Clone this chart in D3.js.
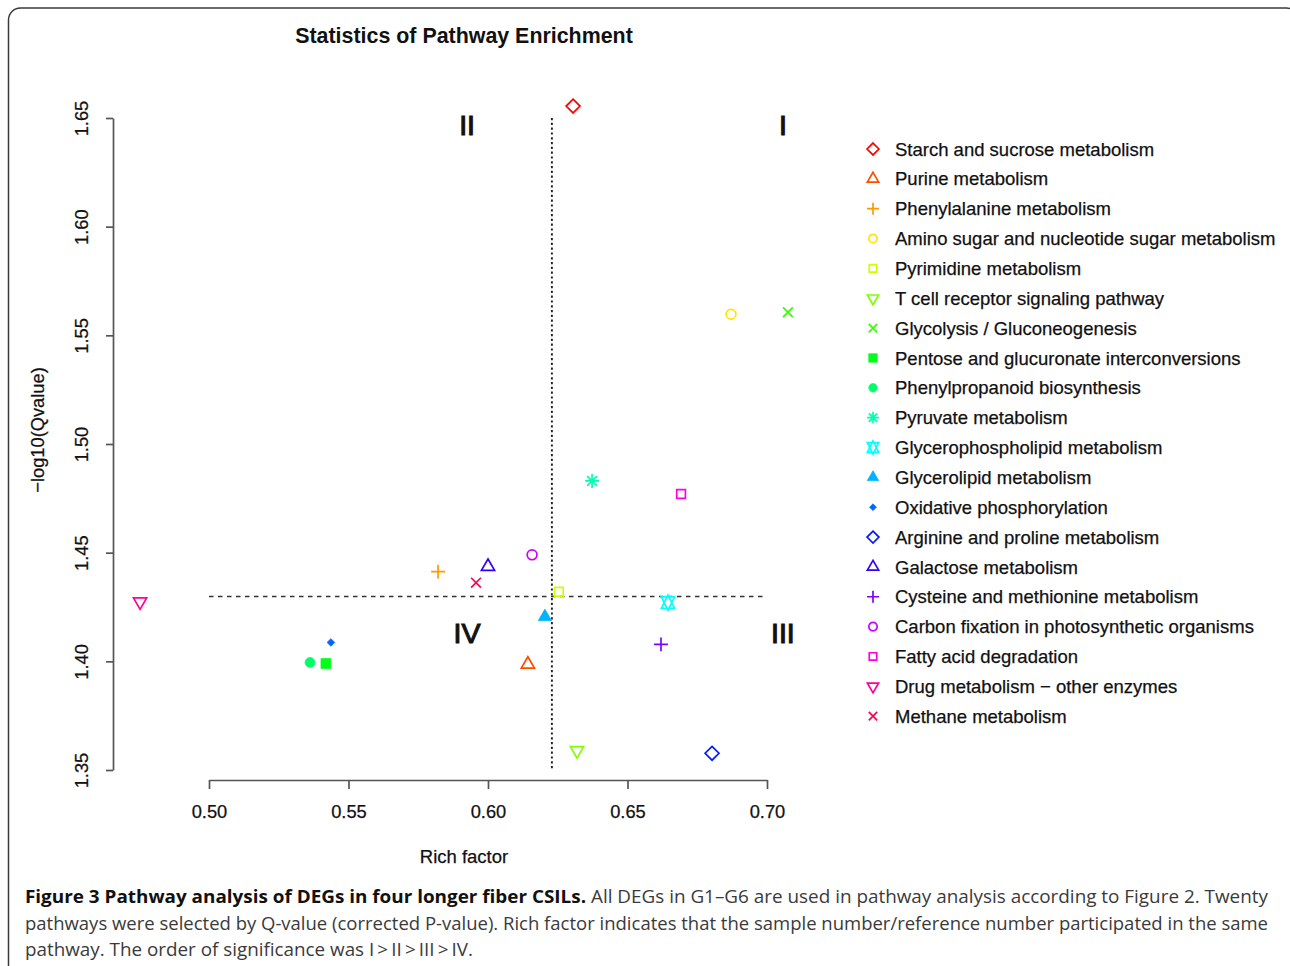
<!DOCTYPE html>
<html><head><meta charset="utf-8">
<script src="https://cdn.jsdelivr.net/npm/d3@7"></script>
<style>body{margin:0;background:#fff}svg{display:block}</style>
</head><body>
<svg id="c" width="1290" height="966"></svg>
<script>
// ---------- data ----------
const pathways = [
  "Starch and sucrose metabolism",
  "Purine metabolism",
  "Phenylalanine metabolism",
  "Amino sugar and nucleotide sugar metabolism",
  "Pyrimidine metabolism",
  "T cell receptor signaling pathway",
  "Glycolysis / Gluconeogenesis",
  "Pentose and glucuronate interconversions",
  "Phenylpropanoid biosynthesis",
  "Pyruvate metabolism",
  "Glycerophospholipid metabolism",
  "Glycerolipid metabolism",
  "Oxidative phosphorylation",
  "Arginine and proline metabolism",
  "Galactose metabolism",
  "Cysteine and methionine metabolism",
  "Carbon fixation in photosynthetic organisms",
  "Fatty acid degradation",
  "Drug metabolism \u2212 other enzymes",
  "Methane metabolism"
];
const richFactor = [0.6305,0.6143,0.5821,0.6871,0.6254,0.6319,0.7075,0.5419,0.5362,0.6373,
                    0.6645,0.6204,0.5437,0.6803,0.6000,0.6620,0.6158,0.6692,0.4753,0.5957];
const negLog10Q  = [1.6555,1.3986,1.4413,1.5597,1.4320,1.3590,1.5606,1.3990,1.3995,1.4830,
                    1.4270,1.4205,1.4087,1.3577,1.4436,1.4078,1.4490,1.4770,1.4274,1.4362];
const xTicks = [0.50,0.55,0.60,0.65,0.70];
const yTicks = [1.35,1.40,1.45,1.50,1.55,1.60,1.65];
const richCut = 0.6229, qCut = 1.4298;
const quadrantNames = ["I","II","III","IV"];
const quadrantRich = [0.7057,0.5925,0.7057,0.5925];
const quadrantQ    = [1.6468,1.6468,1.4133,1.4133];
const titleText = "Statistics of Pathway Enrichment";
const xLabel = "Rich factor";
const yLabel = "\u2212log10(Qvalue)";
const captionBold = "Figure 3 Pathway analysis of DEGs in four longer fiber CSILs.";
const captionLines = [
  " All DEGs in G1\u2013G6 are used in pathway analysis according to Figure 2. Twenty",
  "pathways were selected by Q-value (corrected P-value). Rich factor indicates that the sample number/reference number participated in the same",
  "pathway. The order of significance was I\u2009>\u2009II\u2009>\u2009III\u2009>\u2009IV."
];

// ---------- styles ----------
const pchs = [5,2,3,1,0,6,4,15,16,8,11,17,18,5,2,3,1,0,6,4];
const colors = ["#FF0000","#FF4D00","#FF9900","#FFE500","#CCFF00","#80FF00","#33FF00","#00FF19","#00FF66","#00FFB2",
                "#00FFFF","#00B3FF","#0066FF","#001AFF","#3300FF","#7F00FF","#CC00FF","#FF00E6","#FF0099","#FF004D"];
const FONT = "'Liberation Sans', Arial, Helvetica, sans-serif";

const svg = d3.select("#c");
svg.append("rect").attr("width",1290).attr("height",966).attr("fill","#fff");
svg.append("rect").attr("x",8.5).attr("y",8).attr("width",1290).attr("height",1000)
  .attr("rx",12).attr("fill","none").attr("stroke","#3a3a3a").attr("stroke-width",1.5);

const x = d3.scaleLinear().domain([0.5,0.7]).range([209,767]);
const y = d3.scaleLinear().domain([1.35,1.65]).range([770,118]);

// marker path generator (R pch shapes)
function marker(pch, r){
  const p = d3.path();
  const tri = (dir)=>{
    const rr = 1.5551*r, yc = 0.7776*r, xc = 1.3467*r;
    p.moveTo(0,-dir*rr); p.lineTo(xc,dir*yc); p.lineTo(-xc,dir*yc); p.closePath();
  };
  let filled=false;
  switch(pch){
    case 0: {const h=0.886*r; p.rect(-h,-h,2*h,2*h); break;}
    case 1: p.moveTo(r,0); p.arc(0,0,r,0,2*Math.PI); break;
    case 2: tri(1); break;
    case 6: tri(-1); break;
    case 3: {const h=1.414*r; p.moveTo(-h,0);p.lineTo(h,0);p.moveTo(0,-h);p.lineTo(0,h); break;}
    case 4: {const h=r; p.moveTo(-h,-h);p.lineTo(h,h);p.moveTo(-h,h);p.lineTo(h,-h); break;}
    case 5: {const h=1.414*r; p.moveTo(0,-h);p.lineTo(h,0);p.lineTo(0,h);p.lineTo(-h,0);p.closePath(); break;}
    case 8: {const h=r, k=1.414*r; p.moveTo(-h,-h);p.lineTo(h,h);p.moveTo(-h,h);p.lineTo(h,-h);
             p.moveTo(-k,0);p.lineTo(k,0);p.moveTo(0,-k);p.lineTo(0,k); break;}
    case 11: {const rr=1.5551*r, yc=0.5*(0.7776*r+rr), xc=1.3467*r;
             p.moveTo(0,-rr);p.lineTo(xc,yc);p.lineTo(-xc,yc);p.closePath();
             p.moveTo(0,rr);p.lineTo(xc,-yc);p.lineTo(-xc,-yc);p.closePath(); break;}
    case 15: {const h=r; p.rect(-h,-h,2*h,2*h); filled=true; break;}
    case 16: p.moveTo(r,0); p.arc(0,0,r,0,2*Math.PI); filled=true; break;
    case 17: tri(1); filled=true; break;
    case 18: {const h=r; p.moveTo(0,-h);p.lineTo(h,0);p.lineTo(0,h);p.lineTo(-h,0);p.closePath(); filled=true; break;}
  }
  return {d:p.toString(), filled};
}
function drawMarker(g, pch, color, r){
  const m = marker(pch, r);
  g.append("path").attr("d", m.d)
    .attr("fill", m.filled ? color : "none")
    .attr("stroke", color).attr("stroke-width", m.filled ? 0.8 : 1.7)
    .attr("stroke-linejoin","miter");
}

// title
svg.append("text").attr("x",464).attr("y",43).attr("text-anchor","middle")
  .attr("font-family",FONT).attr("font-weight","bold").attr("font-size",21.4).attr("fill","#111")
  .text(titleText);

// axes
const xAxis = svg.append("g").attr("transform","translate(0,780)")
  .call(d3.axisBottom(x).tickValues(xTicks).tickFormat(d3.format(".2f")).tickSize(9).tickSizeOuter(0).tickPadding(16));
const yAxis = svg.append("g").attr("transform","translate(113,0)")
  .call(d3.axisLeft(y).tickValues(yTicks).tickFormat(d3.format(".2f")).tickSize(7).tickSizeOuter(0));
[xAxis,yAxis].forEach(a=>{
  a.selectAll("path,line").attr("stroke","#555").attr("stroke-width",1.7);
  a.selectAll("text").attr("font-family",FONT).attr("font-size",18.3).attr("fill","#111")
    .attr("stroke","#111").attr("stroke-width",0.25);
});
yAxis.selectAll(".tick text")
  .attr("x",null).attr("dy","0.35em").attr("text-anchor","middle")
  .attr("transform","translate(-31,0) rotate(-90)");

// axis labels
svg.append("text").attr("x",464).attr("y",863).attr("text-anchor","middle")
  .attr("font-family",FONT).attr("font-size",18.5).attr("fill","#111")
  .attr("stroke","#111").attr("stroke-width",0.25).text(xLabel);
svg.append("text").attr("transform","translate(44,430) rotate(-90)").attr("text-anchor","middle")
  .attr("font-family",FONT).attr("font-size",18.3).attr("fill","#111")
  .attr("stroke","#111").attr("stroke-width",0.25).text(yLabel);

// reference lines
svg.append("line").attr("x1",x(richCut)).attr("x2",x(richCut)).attr("y1",y(1.65)).attr("y2",y(1.35))
  .attr("stroke","#222").attr("stroke-width",1.9).attr("stroke-dasharray","2.2,2.6");
svg.append("line").attr("x1",x(0.5)).attr("x2",x(0.7)).attr("y1",y(qCut)).attr("y2",y(qCut))
  .attr("stroke","#333").attr("stroke-width",1.5).attr("stroke-dasharray","4.5,4.5");

// quadrant labels
quadrantNames.forEach((q,i)=>{
  svg.append("text").attr("x",x(quadrantRich[i])).attr("y",y(quadrantQ[i])+10.5).attr("text-anchor","middle")
    .attr("font-family",FONT).attr("font-size",28.5).attr("fill","#111")
    .attr("stroke","#111").attr("stroke-width",1.1).text(q);
});

// points
pathways.forEach((p,i)=>{
  const g = svg.append("g").attr("transform",`translate(${x(richFactor[i])},${y(negLog10Q[i])})`);
  drawMarker(g, pchs[i], colors[i], pchs[i]===18 ? 3.8 : 4.9);
});

// legend
const leg = svg.append("g");
pathways.forEach((p,i)=>{
  const yy = 149 + i*29.85;
  const g = leg.append("g").attr("transform",`translate(873,${yy})`);
  drawMarker(g, pchs[i], colors[i], pchs[i]===18 ? 3.4 : 4.2);
  leg.append("text").attr("x",895).attr("y",yy+6.6).attr("font-family",FONT).attr("font-size",18.5)
    .attr("fill","#111").attr("stroke","#111").attr("stroke-width",0.25).text(p);
});

// caption
const CF = "'Open Sans', 'Noto Sans', sans-serif";
const cap = svg.append("g").attr("font-family",CF).attr("font-size",18.5);
const t1 = cap.append("text").attr("x",25).attr("y",903);
t1.append("tspan").attr("font-weight","bold").attr("fill","#111").text(captionBold);
t1.append("tspan").attr("fill","#3a3a3a").text(captionLines[0]);
const t2 = cap.append("text").attr("x",25).attr("y",930).attr("fill","#3a3a3a").text(captionLines[1]);
const t3 = cap.append("text").attr("x",25).attr("y",956).attr("fill","#3a3a3a").text(captionLines[2]);
[[t1,1243],[t2,1243],[t3,448]].forEach(([t,w])=>{
  t.attr("textLength",w).attr("lengthAdjust","spacingAndGlyphs");
});
</script>
</body></html>
